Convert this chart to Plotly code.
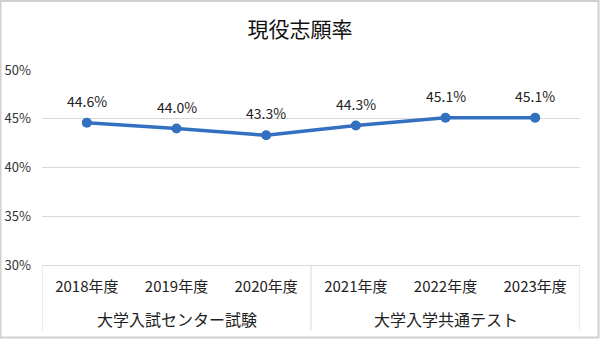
import plotly.graph_objects as go

title = "現役志願率"
groups = ["大学入試センター試験"] * 3 + ["大学入学共通テスト"] * 3
years = ["2018年度", "2019年度", "2020年度", "2021年度", "2022年度", "2023年度"]
rates = [44.6, 44.0, 43.3, 44.3, 45.1, 45.1]
y_ticks = [30, 35, 40, 45, 50]

W, H = 600, 339
ml, mr, mt, mb = 42, 20, 70, 74
pw, ph = W - ml - mr, H - mt - mb

font_jp = "Noto Sans CJK JP"
line_color = "#3470c0"
grid_color = "#d9d9d9"

fig = go.Figure()
fig.add_trace(go.Scatter(
    x=years,
    y=rates,
    mode="lines+markers",
    line=dict(color=line_color, width=3.5),
    marker=dict(color=line_color, size=10),
    cliponaxis=False,
    showlegend=False,
))

annotations = []
# data labels
for yr, v in zip(years, rates):
    annotations.append(dict(
        x=yr, y=v, xref="x", yref="y", text=f"{v:.1f}%", showarrow=False,
        yshift=22, font=dict(family=font_jp, size=14, color="#222222"),
    ))

# group labels and dividers
group_order = []
for g in groups:
    if g not in group_order:
        group_order.append(g)
shapes = []
bounds = [-0.5]
for g in group_order:
    idx = [i for i, gg in enumerate(groups) if gg == g]
    center = sum(idx) / len(idx)
    annotations.append(dict(
        x=center, y=-(319 - (H - mb)) / ph, xref="x", yref="paper", text=g,
        showarrow=False, yanchor="middle",
        font=dict(family=font_jp, size=16, color="#222222"),
    ))
    bounds.append(max(idx) + 0.5)
for b in bounds:
    shapes.append(dict(
        type="line", xref="x", yref="paper", x0=b, x1=b,
        y0=0, y1=-(331 - (H - mb)) / ph,
        line=dict(color=grid_color, width=1),
    ))

shapes.append(dict(
    type="rect", xref="paper", yref="paper",
    x0=(-ml + 0.5) / pw, x1=(pw + mr - 1.5) / pw,
    y0=(-mb + 1.5) / ph, y1=(ph + mt - 1) / ph,
    line=dict(color="#d0d0d0", width=2), layer="below",
))

fig.update_layout(
    width=W, height=H,
    margin=dict(l=ml, r=mr, t=mt, b=mb),
    paper_bgcolor="white",
    plot_bgcolor="white",
    title=dict(text=title, x=0.5, xanchor="center", y=1 - 30 / H, yanchor="middle",
               font=dict(family=font_jp, size=21, color="#111111")),
    font=dict(family=font_jp, size=13, color="#333333"),
    xaxis=dict(
        type="category",
        range=[-0.5, len(years) - 0.5],
        automargin=False,
        showgrid=False,
        showline=True, linecolor=grid_color, linewidth=1,
        ticks="",
        ticklabelstandoff=8,
        tickfont=dict(family=font_jp, size=15, color="#222222"),
    ),
    yaxis=dict(
        range=[30, 50],
        automargin=False,
        tickvals=y_ticks,
        ticktext=[f"{v}%" for v in y_ticks],
        showgrid=True, gridcolor=grid_color, gridwidth=1,
        zeroline=False, showline=False,
        ticks="",
        ticklabelstandoff=10,
        tickfont=dict(family=font_jp, size=13, color="#333333"),
    ),
    annotations=annotations,
    shapes=shapes,
)

fig.write_html("out.html")
